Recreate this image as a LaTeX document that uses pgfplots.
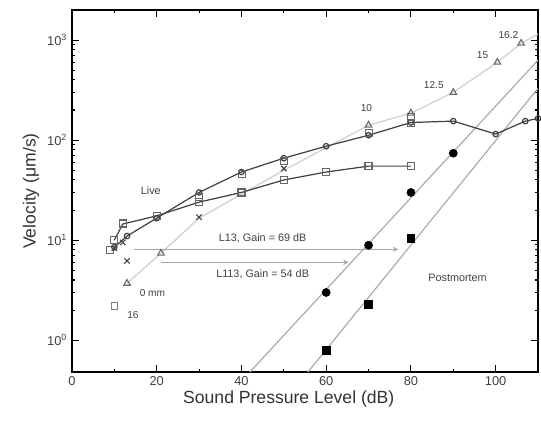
\documentclass[border=0pt]{standalone}
\usepackage{fontspec}
\setmainfont{Liberation Sans}
\usepackage{pgfplots}
\pgfplotsset{compat=1.18}
\begin{document}
\begin{tikzpicture}
\begin{axis}[
 name=ax,
 scale only axis, width=344.6pt, height=267.7pt,
 xmin=0, xmax=110, ymode=log, ymin=0.48, ymax=2000,
 xtick={0,20,40,60,80,100}, minor xtick={10,30,50,70,90,110},
 ytick={1,10,100,1000},
 yticklabels={10\textsuperscript{0},10\textsuperscript{1},10\textsuperscript{2},10\textsuperscript{3}},
 /pgf/number format/assume math mode=true,
 tick align=inside, major tick length=5pt, minor tick length=2.5pt,
 tick style={line width=0.8pt, black},
 axis line style={line width=1.2pt},
 ticklabel style={font=\fontsize{9.5}{11}\selectfont, text=black!75},
 xlabel={Sound Pressure Level (dB)}, ylabel={Velocity (μm/s)},
 label style={font=\fontsize{13}{15}\selectfont, text=black!80},
 xlabel style={yshift=3pt, xshift=-12pt},
 ylabel style={yshift=-1pt},
 clip=true,
]
% postmortem fit lines
\addplot[gray!65, line width=0.9pt] coordinates {(42,0.48) (110,630)};
\addplot[gray!65, line width=0.9pt] coordinates {(55.7,0.48) (110,330)};
% triangle (gray) curve
\addplot[gray!35, line width=1pt] coordinates {(13,3.7) (21,7.4) (30,16.6) (50,50) (70,141) (80,186) (90,300) (100.4,600) (106,930) (110,1150)};
\addplot[only marks, mark=triangle, mark size=2.8pt, gray!80!black, thick] coordinates {(13,3.7) (21,7.4) (70,141) (80,186) (90,300) (100.4,600) (106,930)};
% Live upper curve
\addplot[black!75, line width=0.9pt, mark=o, mark size=2pt, mark options={solid, fill=white}] coordinates {
 (10,8.5) (13,11) (20,16.6) (30,30) (40,48) (50,66) (60,87) (70,112) (80,150) (90,155) (100,115) (107,155) (110,165)};
% Live lower curve
\addplot[black!75, line width=0.9pt, mark=square, mark size=2.6pt, mark options={solid, fill=white, black!60}] coordinates {
 (10,10) (12,14.5) (20,17.5) (30,24) (40,30) (50,40) (60,48) (70,55) (80,55)};
% extra open squares
\addplot[only marks, mark=square, mark size=2.6pt, black!60] coordinates {(12,15) (9,8) (40,46) (30,27) (50,62) (70,118) (80,148) (80,170)};
% x markers
\addplot[only marks, mark=x, mark size=2.8pt, black!75, thick] coordinates {(10,8.3) (13,6.2) (30,17) (50,52) (12,9.5)};
% square "16"
\addplot[only marks, mark=square, mark size=2.4pt, black!50, thick] coordinates {(10,2.2)};
% postmortem data
\addplot[only marks, mark=*, mark size=3pt, black] coordinates {(60,3.0) (70,8.9) (80,30) (90,74)};
\addplot[only marks, mark=square*, mark size=2.8pt, black] coordinates {(60,0.79) (70,2.3) (80,10.5)};
% gain arrows
\draw[gray!70, line width=0.8pt, -stealth] (axis cs:14.6,8.1) -- (axis cs:77,8.1);
\draw[gray!70, line width=0.8pt, -stealth] (axis cs:21,6.0) -- (axis cs:65.3,6.0);
% labels
\node[font=\fontsize{8}{9}\selectfont, text=black!75] at (axis cs:45,10.5) {L13, Gain = 69 dB};
\node[font=\fontsize{8}{9}\selectfont, text=black!75] at (axis cs:45,4.6) {L113, Gain = 54 dB};
\node[font=\fontsize{8}{9}\selectfont, text=black!75] at (axis cs:18.6,31.6) {Live};
\node[font=\fontsize{8}{9}\selectfont, text=black!75] at (axis cs:91,4.2) {Postmortem};
\node[font=\fontsize{7.5}{9}\selectfont, text=black!75] at (axis cs:19,2.95) {0 mm};
\node[font=\fontsize{7.5}{9}\selectfont, text=black!75] at (axis cs:14.4,1.78) {16};
\node[font=\fontsize{7.5}{9}\selectfont, text=black!75] at (axis cs:69.5,209) {10};
\node[font=\fontsize{7.5}{9}\selectfont, text=black!75] at (axis cs:85.4,355) {12.5};
\node[font=\fontsize{7.5}{9}\selectfont, text=black!75] at (axis cs:96.9,708) {15};
\node[font=\fontsize{7.5}{9}\selectfont, text=black!75] at (axis cs:103,1120) {16.2};
\end{axis}
\pgfresetboundingbox
\path[use as bounding box] ([shift={(-53.2pt,-35.5pt)}]ax.south west) rectangle ([shift={(2.2pt,7.4pt)}]ax.north east);
\end{tikzpicture}
\end{document}
